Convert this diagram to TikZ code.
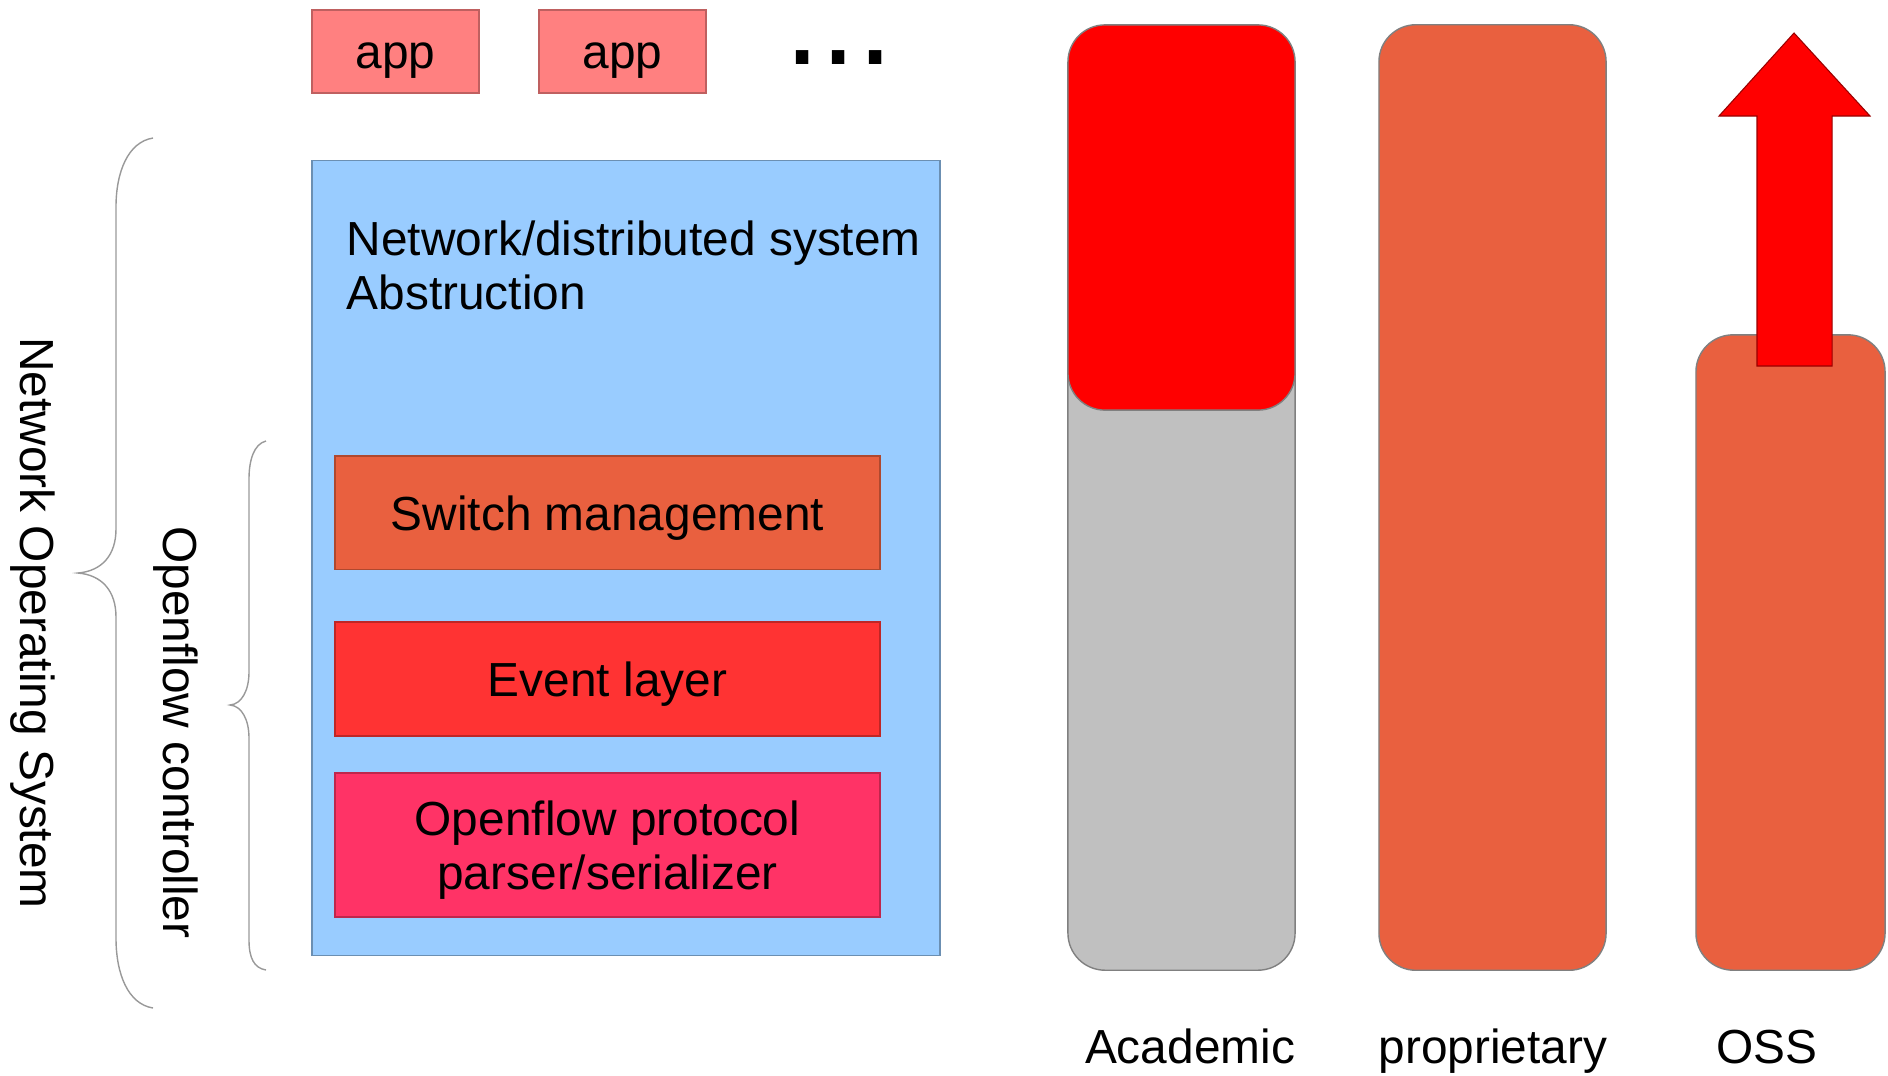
\documentclass[tikz,border=0pt]{standalone}
\usepackage{fontspec}
\setmainfont{Liberation Sans}
\usetikzlibrary{positioning, calc}

\definecolor{appfill}{HTML}{FF8080}
\definecolor{nosfill}{HTML}{99CCFF}
\definecolor{swfill}{HTML}{E9603F}
\definecolor{evfill}{HTML}{FF3333}
\definecolor{offill}{HTML}{FF3366}
\definecolor{acfill}{HTML}{C0C0C0}
\definecolor{hotred}{HTML}{FF0000}

\begin{document}
\begin{tikzpicture}[x=0.01cm, y=-0.01cm,
    every node/.style={font=\fontsize{13.6}{15.4}\selectfont, inner sep=0pt},
    app/.style={draw=appfill!75!black, fill=appfill, minimum width=1.67cm, minimum height=0.83cm, text height=12.6pt, text depth=2.7pt},
    layer/.style={draw=#1!75!black, fill=#1, minimum width=5.45cm, text height=12.9pt, text depth=2.7pt},
    bar/.style={draw=gray, line width=0.4pt, fill=#1, rounded corners=0.37cm},
    bracepen/.style={draw=gray!80, line width=0.4pt}]
    \useasboundingbox (0,0) rectangle (1888,1075);

    \node[app] (app1) at (395.5,51.5) {app};
    \node[app] (app2) at (622.5,51.5) {app};
    \node[anchor=base west, font=\fontsize{37}{37}\selectfont, text height=0.15cm, text depth=0pt] (more) at (784,64) {...};

    % controller stack
    \node[draw=nosfill!70!black, fill=nosfill, minimum width=6.28cm, minimum height=7.94cm] (nos) at (626,558) {};
    \node[anchor=north west, align=left] (abs) at (346,220) {Network/distributed system\\Abstruction};
    \node[layer=swfill, minimum height=1.135cm] (sw) at (607.5,512.75) {Switch management};
    \node[layer=evfill, minimum height=1.14cm] (ev) at (607.5,679) {Event layer};
    \node[draw=offill!75!black, fill=offill, minimum width=5.45cm, minimum height=1.44cm, align=center] (of) at (607.5,845) {\rule{0pt}{12.8pt}Openflow protocol\\parser/serializer};

    % braces
    \draw[bracepen] (153,138) .. controls (128,142) and (116,172) .. (116,207) -- (116,529) .. controls (116,555) and (102,571) .. (78,573) .. controls (102,575) and (116,591) .. (116,617) -- (116,938) .. controls (116,974) and (128,1004) .. (153,1008);
    \node[rotate=-90, anchor=base] (noslabel) at (21,623) {Network Operating System};
    \draw[bracepen] (266,441) .. controls (254,444) and (249,460) .. (249,479) -- (249,672) .. controls (249,690) and (242,704) .. (230,705) .. controls (242,706) and (249,720) .. (249,738) -- (249,940) .. controls (249,958) and (254,968) .. (266,970);
    \node[rotate=-90, anchor=base] (oflabel) at (163,732.5) {Openflow controller};

    % bars
    \node[bar=acfill, minimum width=2.27cm, minimum height=6.7cm] (acbase) at (1181.5,635) {};
    \node[bar=hotred, minimum width=2.27cm, minimum height=3.85cm] (actop) at (1181.5,217.5) {};
    \node[bar=swfill, minimum width=2.27cm, minimum height=9.45cm] (prop) at (1492.5,497.5) {};
    \node[bar=swfill, minimum width=1.89cm, minimum height=6.35cm] (oss) at (1790.5,652.5) {};
    \fill[hotred, draw=red!60!black, line width=0.3pt] (1757,366) -- (1757,116) -- (1719,116) -- (1794,33) -- (1870,116) -- (1832,116) -- (1832,366) -- cycle;

    \node[anchor=base] (aclabel) at (1190,1063) {Academic};
    \node[anchor=base] (proplabel) at (1493,1063) {proprietary};
    \node[anchor=base] (osslabel) at (1767,1063) {OSS};
\end{tikzpicture}
\end{document}
